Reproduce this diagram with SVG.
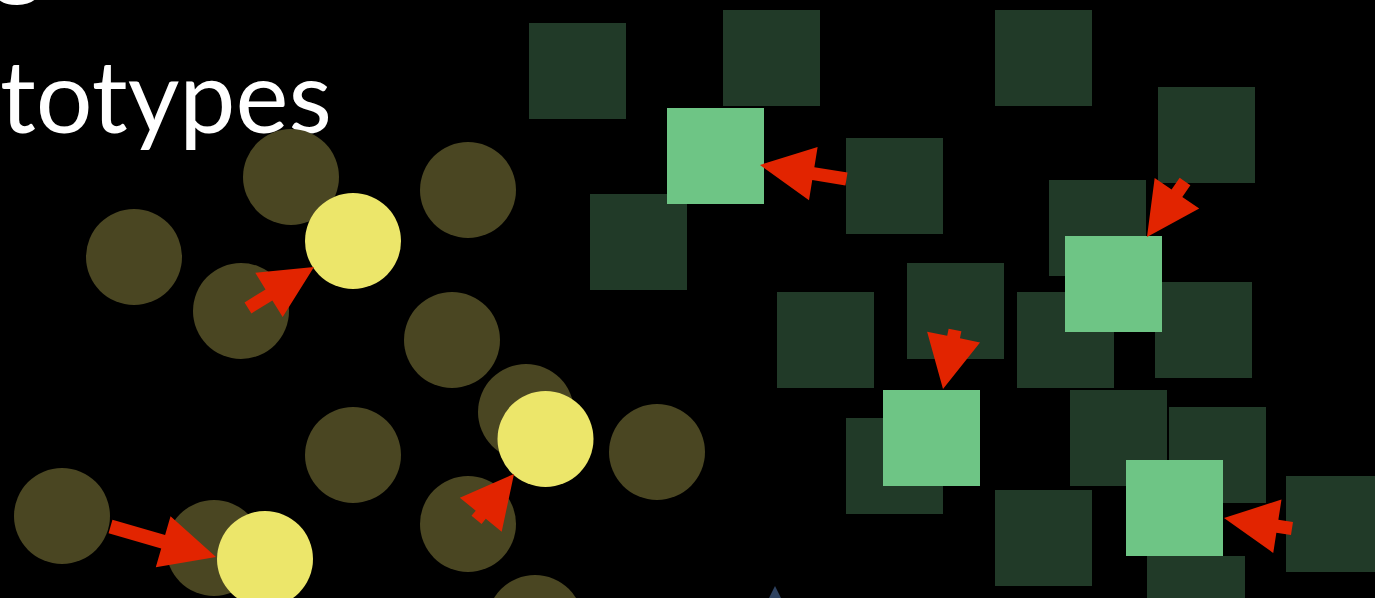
<svg xmlns="http://www.w3.org/2000/svg" width="1375" height="598" viewBox="0 0 1375 598">
<defs>
<style>
.dc{fill:#4a4622}
.yc{fill:#ece66a}
.ds{fill:#213a28}
.ls{fill:#6ec585}
.ar{fill:#e22400}
.tx{fill:#ffffff;font-family:Lato,"Open Sans","Liberation Sans",sans-serif;font-size:100px}
</style>
</defs>
<rect x="0" y="0" width="1375" height="598" fill="#000000"/>
<g id="title">
<text class="tx" x="-8" y="-13">g</text>
<text class="tx" x="0" y="133" textLength="332" lengthAdjust="spacingAndGlyphs">totypes</text>
</g>
<g id="dark-circles">
<circle id="c1" class="dc" cx="291" cy="177" r="48"/>
<circle id="c2" class="dc" cx="134" cy="257" r="48"/>
<circle id="c3" class="dc" cx="468" cy="190" r="48"/>
<circle id="c4" class="dc" cx="241" cy="311" r="48"/>
<circle id="c5" class="dc" cx="452" cy="340" r="48"/>
<circle id="c6" class="dc" cx="526" cy="412" r="48"/>
<circle id="c7" class="dc" cx="353" cy="455" r="48"/>
<circle id="c8" class="dc" cx="657" cy="452" r="48"/>
<circle id="c9" class="dc" cx="62" cy="516" r="48"/>
<circle id="c10" class="dc" cx="214" cy="548" r="48"/>
<circle id="c11" class="dc" cx="468" cy="524" r="48"/>
<circle id="c12" class="dc" cx="535" cy="623" r="48"/>
</g>
<g id="yellow-circles">
<circle id="y1" class="yc" cx="353" cy="241" r="48"/>
<circle id="y2" class="yc" cx="545.5" cy="439" r="48"/>
<circle id="y3" class="yc" cx="265" cy="559" r="48"/>
</g>
<g id="dark-squares">
<rect id="s1" class="ds" x="529" y="23" width="97" height="96"/>
<rect id="s2" class="ds" x="723" y="10" width="97" height="96"/>
<rect id="s3" class="ds" x="995" y="10" width="97" height="96"/>
<rect id="s4" class="ds" x="1158" y="87" width="97" height="96"/>
<rect id="s5" class="ds" x="846" y="138" width="97" height="96"/>
<rect id="s6" class="ds" x="590" y="194" width="97" height="96"/>
<rect id="s7" class="ds" x="1049" y="180" width="97" height="96"/>
<rect id="s8" class="ds" x="907" y="263" width="97" height="96"/>
<rect id="s9" class="ds" x="777" y="292" width="97" height="96"/>
<rect id="s10" class="ds" x="1017" y="292" width="97" height="96"/>
<rect id="s11" class="ds" x="1155" y="282" width="97" height="96"/>
<rect id="s12" class="ds" x="846" y="418" width="97" height="96"/>
<rect id="s13" class="ds" x="1070" y="390" width="97" height="96"/>
<rect id="s14" class="ds" x="1169" y="407" width="97" height="96"/>
<rect id="s15" class="ds" x="995" y="490" width="97" height="96"/>
<rect id="s16" class="ds" x="1286" y="476" width="97" height="96"/>
<rect id="s17" class="ds" x="1147" y="556" width="98" height="96"/>
</g>
<g id="light-squares">
<rect id="l1" class="ls" x="667" y="108" width="97" height="96"/>
<rect id="l2" class="ls" x="1065" y="236" width="97" height="96"/>
<rect id="l3" class="ls" x="883" y="390" width="97" height="96"/>
<rect id="l4" class="ls" x="1126" y="460" width="97" height="96"/>
</g>
<g id="marker-triangle">
<polygon points="775,586 769,598 781,598" fill="#2e4260"/>
</g>
<g id="connectors">
<polygon class="ar" transform="translate(314,267) rotate(-31.8)" points="-77.7,-6.5 -53,-6.5 -53,-26 0,0 -53,26 -53,6.5 -77.7,6.5"/>
<polygon class="ar" transform="translate(760,165) rotate(189.2)" points="-87.6,-6.5 -54,-6.5 -54,-27 0,0 -54,27 -54,6.5 -87.6,6.5"/>
<polygon class="ar" transform="translate(1147,237) rotate(124.4)" points="-67.3,-6.5 -53,-6.5 -53,-27 0,0 -53,27 -53,6.5 -67.3,6.5"/>
<polygon class="ar" transform="translate(943,389) rotate(101.5)" points="-60.2,-6.5 -53,-6.5 -53,-27 0,0 -53,27 -53,6.5 -60.2,6.5"/>
<polygon class="ar" transform="translate(1224,518) rotate(188.8)" points="-68.8,-6.5 -54,-6.5 -54,-27 0,0 -54,27 -54,6.5 -68.8,6.5"/>
<polygon class="ar" transform="translate(514,474) rotate(-50.8)" points="-59.3,-6.5 -52.6,-6.5 -52.6,-27 0,0 -52.6,27 -52.6,6.5 -59.3,6.5"/>
<polygon class="ar" transform="translate(216,557) rotate(16.1)" points="-109.8,-7 -55,-7 -55,-26.6 0,0 -55,26.6 -55,7 -109.8,7"/>
</g>
</svg>
